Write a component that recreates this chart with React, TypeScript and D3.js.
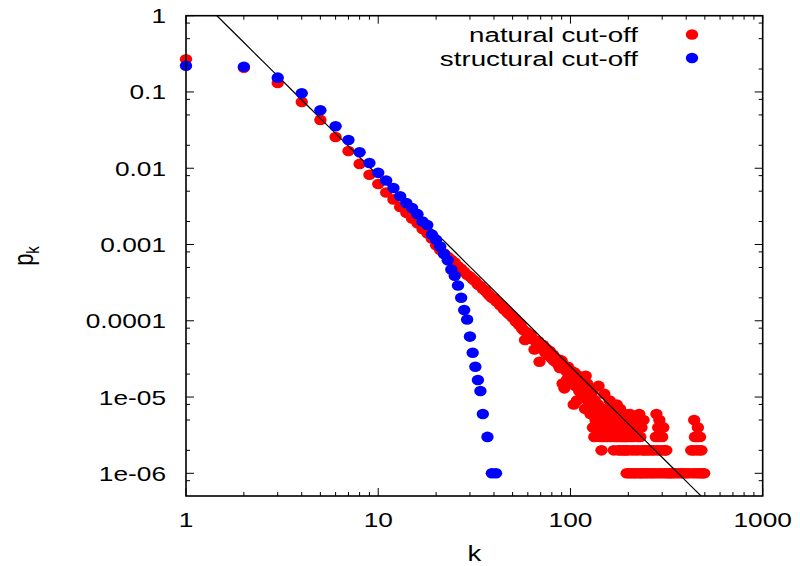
import React from "react";
import * as d3 from "d3";

const W = 800;
const H = 566;

// p_k of the natural cut-off network for k = 1, 2, 3, ... (consecutive degrees)
const naturalHead: number[] = [
  0.268, 0.208, 0.131, 0.074, 0.043, 0.0257, 0.0168, 0.0114, 0.0082, 0.0062,
  0.0048, 0.0039, 0.0031, 0.0026, 0.0022, 0.0019, 0.0016, 0.0014, 0.0012, 0.00098,
  0.00085, 0.00076, 0.00069, 0.00063, 0.00058, 0.00052, 0.00048, 0.00044, 0.0004, 0.00038,
  0.00035, 0.00033, 0.0003, 0.000285, 0.00026, 0.00025, 0.00023, 0.000215, 0.0002, 0.000195,
  0.00018, 0.000175, 0.00016, 0.000155, 0.000142, 0.000138, 0.000128, 0.000122, 0.000118, 0.00011,
  0.000106, 9.8e-5, 9.6e-5, 8.9e-5, 8.8e-5, 7.9e-5, 7.5e-5, 5.6e-5, 7.1e-5, 6.8e-5,
  6.2e-5, 6.6e-5, 5.9e-5, 5.7e-5, 4.2e-5, 5.5e-5, 5.0e-5, 5.4e-5, 2.9e-5, 4.6e-5,
  4.4e-5, 4.8e-5, 4.1e-5, 3.8e-5, 4.3e-5, 3.7e-5, 3.5e-5, 4.0e-5, 3.4e-5, 3.2e-5,
  3.6e-5, 3.0e-5, 3.3e-5, 2.9e-5, 3.1e-5, 2.7e-5, 3.1e-5, 2.4e-5, 2.8e-5, 3.0e-5,
  1.5e-5, 2.6e-5, 1.3e-5, 2.3e-5, 2.2e-5, 1.7e-5, 2.5e-5, 1.9e-5, 2.1e-5, 1.8e-5,
  2.2e-5, 1.6e-5, 2.0e-5, 8e-6, 2.1e-5, 1.4e-5, 1.8e-5, 9e-6, 1.5e-5, 1.9e-5,
  1.2e-5, 1.7e-5, 1.6e-5, 1.0e-5, 1.3e-5, 1.8e-5, 1.1e-5, 1.4e-5, 7e-6, 1.9e-5,
  1.1e-5, 1.5e-5, 9e-6, 1.2e-5, 9e-6, 1.3e-5, 6e-6, 7e-6, 1.0e-5,
];

// sparse tail of the natural cut-off network: [k, p_k]
const naturalTail: [number, number][] = [
  [130, 12e-6], [131, 4e-6], [132, 6e-6], [133, 3e-6], [134, 9e-6], [135, 5e-6], [136, 7e-6],
  [137, 4e-6], [138, 6e-6], [139, 8e-6], [140, 14e-6], [141, 5e-6], [142, 3e-6], [143, 6e-6],
  [144, 4e-6], [145, 2e-6], [146, 7e-6], [147, 5e-6], [148, 3e-6], [149, 6e-6], [150, 11e-6],
  [151, 4e-6], [152, 5e-6], [153, 3e-6], [154, 6e-6], [155, 4e-6], [156, 7e-6], [157, 5e-6],
  [158, 3e-6], [159, 6e-6], [160, 9e-6], [161, 4e-6], [162, 5e-6], [163, 3e-6], [164, 6e-6],
  [165, 4e-6], [166, 5e-6], [167, 7e-6], [168, 2e-6], [169, 4e-6], [170, 6e-6], [171, 3e-6],
  [172, 5e-6], [173, 4e-6], [174, 8e-6], [175, 3e-6], [176, 5e-6], [177, 2e-6], [178, 4e-6],
  [179, 6e-6], [180, 3e-6], [181, 7e-6], [182, 2e-6], [183, 5e-6], [184, 4e-6], [185, 3e-6],
  [186, 6e-6], [187, 2e-6], [188, 4e-6], [189, 5e-6], [190, 3e-6], [191, 2e-6], [192, 4e-6],
  [193, 6e-6], [194, 3e-6], [195, 2e-6], [196, 1e-6], [197, 5e-6], [198, 3e-6], [199, 4e-6],
  [200, 2e-6], [202, 1e-6], [204, 6e-6], [205, 3e-6], [206, 4e-6], [208, 1e-6], [209, 2e-6],
  [211, 5e-6], [212, 3e-6], [214, 1e-6], [215, 4e-6], [217, 2e-6], [219, 1e-6], [222, 5e-6],
  [224, 3e-6], [225, 2e-6], [227, 1e-6], [228, 6e-6], [230, 4e-6], [231, 3e-6], [232, 1e-6],
  [234, 4e-6], [236, 2e-6], [238, 1e-6], [240, 5e-6], [242, 2e-6], [245, 1e-6], [248, 2e-6],
  [252, 1e-6], [256, 2e-6], [260, 1e-6], [264, 2e-6], [268, 1e-6], [272, 2e-6], [276, 1e-6],
  [278, 3e-6], [280, 6e-6], [283, 2e-6], [286, 4e-6], [287, 1e-6], [289, 3e-6], [290, 5e-6],
  [293, 2e-6], [297, 1e-6], [298, 4e-6], [300, 3e-6], [303, 2e-6], [304, 4e-6], [308, 1e-6],
  [311, 2e-6], [315, 2e-6], [318, 1e-6], [325, 1e-6], [332, 1e-6], [340, 1e-6], [352, 1e-6],
  [365, 1e-6], [378, 1e-6], [390, 1e-6], [400, 1e-6], [412, 1e-6], [425, 2e-6], [432, 1e-6],
  [436, 2e-6], [440, 5e-6], [444, 3e-6], [448, 1e-6], [452, 2e-6], [456, 3e-6], [460, 4e-6],
  [464, 1e-6], [468, 2e-6], [472, 3e-6], [476, 1e-6], [480, 2e-6], [488, 1e-6], [496, 1e-6],
];

// structural cut-off network
const structuralK: number[] = [
  1, 2, 3, 4, 5, 6, 7, 8, 9, 10, 11, 12, 13, 14, 15, 16, 17, 18, 19, 20,
  21, 22, 23, 24, 25, 26, 27, 28, 29, 30, 31, 32, 33, 34, 35, 37, 39, 41,
];
const structuralP: number[] = [
  0.221, 0.214, 0.154, 0.096, 0.0575, 0.0355, 0.0235, 0.0162, 0.0117, 0.0087,
  0.0069, 0.0055, 0.0043, 0.0035, 0.003, 0.0025, 0.002, 0.0018, 0.00135, 0.00115,
  0.00094, 0.00075, 0.00062, 0.00047, 0.00039, 0.00029, 0.0002, 0.000138, 0.000104, 6.2e-5,
  3.8e-5, 2.5e-5, 1.67e-5, 1.2e-5, 6e-6, 3e-6, 1e-6, 1e-6,
];

// reference power law p_k = A k^-gamma
const fitA = 2.52;
const fitGamma = 2.5;

const xTickValues = [1, 10, 100, 1000];
const xTickLabels = ["1", "10", "100", "1000"];
const yTickValues = [1, 0.1, 0.01, 0.001, 0.0001, 1e-5, 1e-6];
const yTickLabels = ["1", "0.1", "0.01", "0.001", "0.0001", "1e-05", "1e-06"];
const legendLabels = ["natural cut-off", "structural cut-off"];
const seriesColors = ["#ff0000", "#0000ff"];

const X0 = 186;
const X1 = 762.7;
const Y0 = 15.7;
const Y1 = 496;

const FONT = "'Liberation Sans', Arial, Helvetica, sans-serif";

export default function App() {
  const x = d3.scaleLog().domain([1, 1000]).range([X0, X1]);
  const y = d3.scaleLog().domain([5.04e-7, 1]).range([Y1, Y0]);

  const natural: [number, number][] = [
    ...naturalHead.map((p, i) => [i + 1, p] as [number, number]),
    ...naturalTail,
  ];
  const structural: [number, number][] = structuralK.map((k, i) => [k, structuralP[i]]);

  const lineKs = d3.range(0, 3.0001, 0.05).map((e) => Math.pow(10, e));
  const fitPath = d3
    .line<number>()
    .x((k) => x(k))
    .y((k) => y(fitA * Math.pow(k, -fitGamma)))(lineKs);

  const xMinor: number[] = [];
  [1, 10, 100].forEach((d) => {
    for (let m = 2; m <= 9; m++) xMinor.push(d * m);
  });
  const yMinor: number[] = [];
  [0.1, 0.01, 0.001, 1e-4, 1e-5, 1e-6, 1e-7].forEach((d) => {
    [2, 5, 8].forEach((m) => {
      const v = d * m;
      if (v <= 1 && v >= 5.04e-7) yMinor.push(v);
    });
  });

  const rx = 6.2;
  const ry = 5.3;
  const sx = 1.25;

  return (
    <svg
      width={W}
      height={H}
      style={{ position: "absolute", left: 0, top: 0, background: "#fff" }}
      fontFamily={FONT}
    >
      <defs>
        <clipPath id="plotClip">
          <rect x={X0} y={Y0} width={X1 - X0} height={Y1 - Y0} />
        </clipPath>
      </defs>
      <rect x={0} y={0} width={W} height={H} fill="#fff" />

      {/* ticks */}
      <g stroke="#000" strokeWidth={1}>
        {xTickValues.map((v) => (
          <g key={"xm" + v}>
            <line x1={x(v)} x2={x(v)} y1={Y1} y2={Y1 - 8} />
            <line x1={x(v)} x2={x(v)} y1={Y0} y2={Y0 + 8} />
          </g>
        ))}
        {xMinor.map((v) => (
          <g key={"xn" + v}>
            <line x1={x(v)} x2={x(v)} y1={Y1} y2={Y1 - 4} />
            <line x1={x(v)} x2={x(v)} y1={Y0} y2={Y0 + 4} />
          </g>
        ))}
        {yTickValues.map((v) => (
          <g key={"ym" + v}>
            <line x1={X0} x2={X0 + 8} y1={y(v)} y2={y(v)} />
            <line x1={X1} x2={X1 - 8} y1={y(v)} y2={y(v)} />
          </g>
        ))}
        {yMinor.map((v) => (
          <g key={"yn" + v}>
            <line x1={X0} x2={X0 + 4} y1={y(v)} y2={y(v)} />
            <line x1={X1} x2={X1 - 4} y1={y(v)} y2={y(v)} />
          </g>
        ))}
      </g>

      {/* natural cut-off points */}
      <g fill={seriesColors[0]}>
        {natural.map(([k, p], i) => (
          <ellipse key={"n" + i} cx={x(k)} cy={y(p)} rx={rx} ry={ry} />
        ))}
      </g>

      {/* power-law reference line */}
      <path d={fitPath ?? ""} fill="none" stroke="#000" strokeWidth={1.2} clipPath="url(#plotClip)" />

      {/* structural cut-off points */}
      <g fill={seriesColors[1]}>
        {structural.map(([k, p], i) => (
          <ellipse key={"s" + i} cx={x(k)} cy={y(p)} rx={rx} ry={ry} />
        ))}
      </g>

      {/* frame */}
      <rect x={X0} y={Y0} width={X1 - X0} height={Y1 - Y0} fill="none" stroke="#000" strokeWidth={1.6} />

      {/* tick labels */}
      <g fontSize={21} fill="#000">
        {xTickValues.map((v, i) => (
          <text key={"xl" + v} transform={`translate(${x(v)},527) scale(${sx},1)`} textAnchor="middle">
            {xTickLabels[i]}
          </text>
        ))}
        {yTickValues.map((v, i) => (
          <text key={"yl" + v} transform={`translate(166,${y(v) + 7.5}) scale(${sx},1)`} textAnchor="end">
            {yTickLabels[i]}
          </text>
        ))}
      </g>

      {/* axis titles */}
      <text transform={`translate(${(X0 + X1) / 2},561) scale(${sx},1)`} textAnchor="middle" fontSize={22}>
        k
      </text>
      <text transform={`translate(33,256) rotate(-90) scale(1,${sx})`} textAnchor="middle" fontSize={22}>
        p
        <tspan fontSize={15} dy={5}>k</tspan>
      </text>

      {/* legend */}
      <g fontSize={21}>
        {legendLabels.map((lab, i) => (
          <g key={lab}>
            <text transform={`translate(638,${34.5 + i * 23.5 + 7.5}) scale(1.32,1)`} textAnchor="end">
              {lab}
            </text>
            <ellipse cx={692} cy={34.5 + i * 23.5} rx={rx} ry={ry} fill={seriesColors[i]} />
          </g>
        ))}
      </g>
    </svg>
  );
}
